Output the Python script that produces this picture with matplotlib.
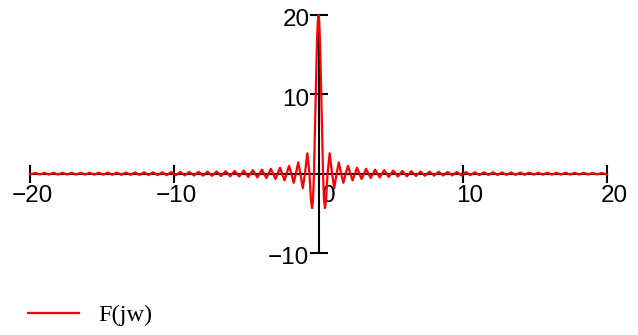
import matplotlib
matplotlib.use("Agg")
import matplotlib.pyplot as plt
import matplotlib.transforms as mtransforms
from matplotlib.lines import Line2D

# F(jw) for w >= 0 (curve is even in w, mirrored below)
w_pos = [0.0, 0.05, 0.10, 0.15, 0.20, 0.25, 0.314, 0.38, 0.449, 0.52, 0.628,
         0.773, 0.942, 1.090, 1.257, 1.407, 1.571, 1.722, 1.885,
         2.042, 2.356, 2.670, 2.985, 3.299, 3.613, 3.927, 4.241, 4.555, 4.869,
         5.184, 5.498, 5.812, 6.126, 6.440, 6.754, 7.069, 7.383, 7.697, 8.011,
         8.325, 8.639, 8.954, 9.268, 9.582, 9.896, 10.210, 10.524, 10.838, 11.153,
         11.467, 11.781, 12.095, 12.409, 12.723, 13.038, 13.352, 13.666, 13.980, 14.294,
         14.608, 14.923, 15.237, 15.551, 15.865, 16.179, 16.493, 16.808, 17.122, 17.436,
         17.750, 18.064, 18.378, 18.693, 19.007, 19.321, 19.635, 19.949, 20.0]
f_pos = [20.0, 19.18, 16.83, 13.30, 9.09, 4.79, 0.0, -3.22, -4.34, -3.40, 0.0,
         2.57, 0.0, -1.83, 0.0, 1.42, 0.0, -1.16, 0.0,
         0.98, -0.85, 0.75, -0.67, 0.61, -0.55, 0.51, -0.47, 0.44, -0.41,
         0.39, -0.36, 0.34, -0.33, 0.31, -0.30, 0.28, -0.27, 0.26, -0.25,
         0.24, -0.23, 0.22, -0.22, 0.21, -0.20, 0.20, -0.19, 0.18, -0.18,
         0.17, -0.17, 0.17, -0.16, 0.16, -0.15, 0.15, -0.15, 0.14, -0.14,
         0.14, -0.13, 0.13, -0.13, 0.13, -0.12, 0.12, -0.12, 0.12, -0.11,
         0.11, -0.11, 0.11, -0.11, 0.10, -0.10, 0.10, -0.10, -0.09]

w = [-v for v in w_pos[::-1]] + w_pos[1:]
f = f_pos[::-1] + f_pos[1:]

x_ticks = [-20, -10, 0, 10, 20]
x_labels = ["\u221220", "\u221210", "0", "10", "20"]
y_ticks = [-10, 10, 20]
y_labels = ["\u221210", "10", "20"]

plt.rcParams["font.family"] = ["Liberation Sans", "DejaVu Sans"]

fig = plt.figure(figsize=(6.38, 3.35), dpi=100)
ax = fig.add_axes([30 / 638, 82 / 335, 577 / 638, 238 / 335])
ax.plot(w, f, color="#ff0000", linewidth=1.6, zorder=3, clip_on=False)

ax.set_xlim(-20, 20)
ax.set_ylim(-10, 20)
for side in ("top", "right"):
    ax.spines[side].set_visible(False)
ax.spines["left"].set_position(("data", 0))
ax.spines["bottom"].set_position(("data", 0))
for side in ("left", "bottom"):
    ax.spines[side].set_linewidth(1.5)

ax.set_xticks(x_ticks, x_labels)
ax.set_yticks(y_ticks, y_labels)
ax.tick_params(direction="inout", length=13, width=1.5, labelsize=17.5)
ax.tick_params(axis="x", pad=2)
ax.tick_params(axis="y", pad=0)

# Mathcad-ish label nudges (in pixels)
dx = {"\u221220": 2, "\u221210": 2, "0": 10, "10": 7, "20": 7}
for lab in ax.get_xticklabels():
    off = mtransforms.ScaledTranslation(dx[lab.get_text()] / 100, 0, fig.dpi_scale_trans)
    lab.set_transform(lab.get_transform() + off)
for lab in ax.get_yticklabels():
    off = mtransforms.ScaledTranslation(0, -3 / 100, fig.dpi_scale_trans)
    lab.set_transform(lab.get_transform() + off)

# legend below the plot
fig.add_artist(Line2D([28 / 638, 79 / 638], [22 / 335, 22 / 335],
                      color="#ff0000", linewidth=1.6))
fig.text(98 / 638, 20 / 335, "F(jw)", family=["Liberation Serif", "DejaVu Serif"],
         fontsize=17.5, va="center", ha="left")

fig.savefig("out.png", dpi=100)
